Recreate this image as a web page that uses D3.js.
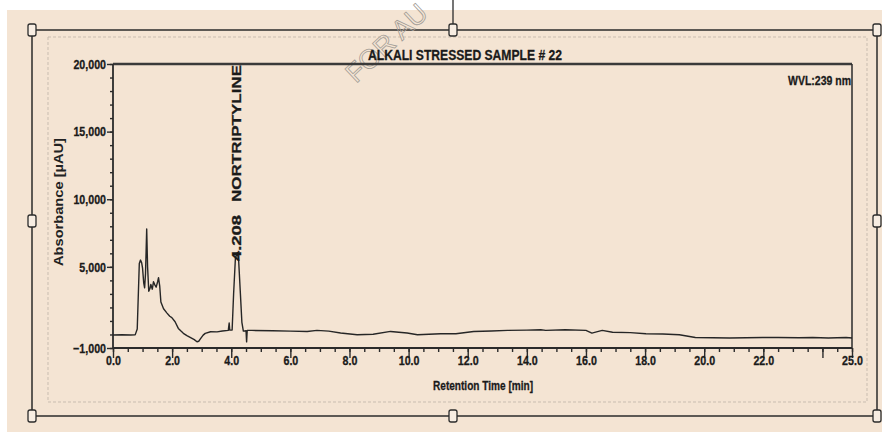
<!DOCTYPE html>
<html>
<head>
<meta charset="utf-8">
<script src="https://cdn.jsdelivr.net/npm/d3@7"></script>
<style>
  html, body { margin: 0; padding: 0; background: #ffffff; }
  svg { display: block; }
  .narrow { font-family: 'Liberation Sans Narrow', 'Arial Narrow', 'Liberation Sans', Arial, sans-serif; font-weight: bold; fill: #1a1a1a; stroke: #1a1a1a; stroke-width: 0.3px; }
</style>
</head>
<body>
<svg id="chart" width="882" height="441"></svg>
<script>
// Chromatogram trace: retention time (min) and absorbance (µAU)
const retentionTime = [
  0.0, 0.3, 0.6, 0.75, 0.82, 0.89, 0.93, 0.97, 1.0, 1.04, 1.07, 1.1, 1.14, 1.17,
  1.21, 1.25, 1.28, 1.33, 1.37, 1.42, 1.46, 1.51, 1.54, 1.58, 1.62, 1.71, 1.82,
  1.92, 1.99, 2.1, 2.21, 2.3, 2.38, 2.5, 2.61, 2.75, 2.84, 2.9, 2.95, 3.05, 3.12,
  3.3, 3.52, 3.7, 3.9, 3.93, 3.95, 4.03, 4.08, 4.14, 4.19, 4.208, 4.25, 4.31,
  4.36, 4.41, 4.5, 4.52, 4.54, 4.7, 5.4, 6.0, 6.57, 6.9, 7.3, 7.7, 8.26, 8.8,
  9.39, 9.95, 10.3, 11.08, 11.6, 12.2, 12.8, 13.35, 14.0, 14.47, 14.64, 15.3,
  16.0, 16.2, 16.55, 16.9, 17.5, 18.03, 18.6, 19.16, 19.7, 20.86, 21.98, 22.5,
  23.2, 23.67, 24.2, 24.8, 25.0
];
const absorbance = [
  -40, -20, -40, -30, 400, 5250, 5500, 5300, 4900, 3800, 3450, 4500, 7800, 5000,
  3200, 3400, 3700, 3350, 3900, 3650, 3500, 3900, 4200, 3600, 2400, 1900, 1600,
  1350, 1250, 940, 450, 250, 85, -80, -210, -380, -540, -500, -350, -50, 80,
  200, 190, 260, 300, 850, 320, 330, 3000, 5600, 6000, 6050, 5500, 3000,
  900, 250, 280, -550, 300, 300, 280, 250, 225, 300, 250, 105, -20, 20,
  225, 105, -20, 55, 55, 225, 260, 300, 320, 350, 300, 350,
  300, 105, 300, 160, 140, 55, 30, -20, -220, -260, -220, -220,
  -240, -220, -260, -220, -260
];

// Axis ticks and labels
const xLabelTicks = [0, 2, 4, 6, 8, 10, 12, 14, 16, 18, 20, 22, 25];
const xMajorTicks = [0, 2, 4, 6, 8, 10, 12, 14, 16, 18, 20, 22, 24, 25];
const xMinorTicks = d3.range(0, 25.01, 0.5);
const yLabelTicks = [-1000, 5000, 10000, 15000, 20000];
const yMinorTicks = d3.range(-1000, 20001, 1000);

// Texts
const chartTitle = "ALKALI STRESSED SAMPLE # 22";
const wavelengthNote = "WVL:239 nm";
const xTitle = "Retention Time [min]";
const yTitle = "Absorbance [\u00b5AU]";
const peakTime = 4.208;
const peakName = "NORTRIPTYLINE";
const watermark = "FOR AU";

const svg = d3.select("#chart");
const W = 882, H = 441;
const plot = { left: 113, right: 852, top: 64, bottom: 348 };

const x = d3.scaleLinear().domain([0, 25]).range([plot.left, plot.right]);
const y = d3.scaleLinear().domain([-1000, 20000]).range([plot.bottom, plot.top]);

// Condense a bold sans text to the look of a narrow face
function condense(sel, factor = 0.82) {
  sel.each(function () {
    const len = this.getComputedTextLength();
    d3.select(this).attr("textLength", len * factor).attr("lengthAdjust", "spacingAndGlyphs");
  });
}

// Page background
svg.append("rect").attr("x", 7).attr("y", 10).attr("width", W - 7).attr("height", 422)
  .attr("fill", "#f4e4d3");

// Dashed inner frame of the report area
svg.append("rect").attr("x", 48).attr("y", 37).attr("width", 819).attr("height", 365)
  .attr("fill", "none").attr("stroke", "#c9bdb0").attr("stroke-width", 1)
  .attr("stroke-dasharray", "3,2");

// Outer selection frame with handles
const frame = { x0: 32, y0: 30, x1: 877, y1: 416 };
svg.append("line").attr("x1", 453).attr("x2", 453).attr("y1", 0).attr("y2", frame.y0)
  .attr("stroke", "#2b2b2b").attr("stroke-width", 1.3);
svg.append("rect").attr("x", frame.x0).attr("y", frame.y0)
  .attr("width", frame.x1 - frame.x0).attr("height", frame.y1 - frame.y0)
  .attr("fill", "none").attr("stroke", "#2b2b2b").attr("stroke-width", 1.5);
const midX = 453, midY = 221;
const handles = [
  [frame.x0, frame.y0], [midX, frame.y0], [frame.x1, frame.y0],
  [frame.x0, midY], [frame.x1, midY],
  [frame.x0, frame.y1], [midX, frame.y1], [frame.x1, frame.y1]
];
svg.selectAll("rect.handle").data(handles).join("rect")
  .attr("class", "handle")
  .attr("x", d => d[0] - 4).attr("y", d => d[1] - 6)
  .attr("width", 8).attr("height", 12).attr("rx", 2)
  .attr("fill", "#f7ede2").attr("stroke", "#2b2b2b").attr("stroke-width", 1.3);

// Watermark
svg.append("text")
  .attr("transform", "translate(356,84) rotate(-43)")
  .attr("font-family", "'Liberation Sans', Arial, sans-serif")
  .attr("font-size", 27)
  .attr("fill", "none").attr("stroke", "#a29c96").attr("stroke-width", 0.8)
  .text(watermark);

// Plot frame: top rule and right border
svg.append("line").attr("x1", plot.left).attr("x2", plot.right)
  .attr("y1", plot.top).attr("y2", plot.top)
  .attr("stroke", "#3a3a3a").attr("stroke-width", 2.6);
svg.append("line").attr("x1", plot.right).attr("x2", plot.right)
  .attr("y1", plot.top).attr("y2", plot.bottom)
  .attr("stroke", "#2b2b2b").attr("stroke-width", 1.5);

// X axis
const gx = svg.append("g").attr("transform", `translate(0,${plot.bottom})`);
gx.append("g").call(d3.axisBottom(x).tickValues(xMinorTicks).tickSize(4).tickFormat(""))
  .call(g => g.select(".domain").remove())
  .selectAll("line").attr("stroke", "#2b2b2b").attr("stroke-width", 1.4);
gx.append("g").call(d3.axisBottom(x).tickValues(xMajorTicks).tickSize(10).tickFormat(""))
  .call(g => g.select(".domain").remove())
  .selectAll("line").attr("stroke", "#2b2b2b").attr("stroke-width", 1.4);
const xLabels = gx.append("g").call(d3.axisBottom(x).tickValues(xLabelTicks).tickSize(0)
  .tickPadding(7.5).tickFormat(d3.format(".1f")));
xLabels.select(".domain").remove();
xLabels.selectAll("text").attr("class", "narrow").attr("font-size", 13)
  .call(condense, 0.82);
gx.append("line").attr("x1", plot.left).attr("x2", plot.right)
  .attr("stroke", "#2b2b2b").attr("stroke-width", 2);

// Y axis
const gy = svg.append("g").attr("transform", `translate(${plot.left},0)`);
gy.append("g").call(d3.axisLeft(y).tickValues(yMinorTicks).tickSize(3).tickFormat(""))
  .call(g => g.select(".domain").remove())
  .selectAll("line").attr("stroke", "#2b2b2b").attr("stroke-width", 1.4);
const yLabels = gy.append("g").call(d3.axisLeft(y).tickValues(yLabelTicks).tickSize(6)
  .tickPadding(1).tickFormat(d3.format(",")));
yLabels.select(".domain").remove();
yLabels.selectAll("line").attr("stroke", "#2b2b2b").attr("stroke-width", 1.4);
yLabels.selectAll("text").attr("class", "narrow").attr("font-size", 13).call(condense, 0.82);
gy.append("line").attr("y1", plot.top).attr("y2", plot.bottom)
  .attr("stroke", "#2b2b2b").attr("stroke-width", 1.8);

// Axis titles
svg.append("text").attr("class", "narrow")
  .attr("x", 483).attr("y", 390)
  .attr("text-anchor", "middle").attr("font-size", 13)
  .attr("textLength", 100).attr("lengthAdjust", "spacingAndGlyphs")
  .text(xTitle);
svg.append("text")
  .attr("transform", `translate(63,202) rotate(-90)`)
  .attr("text-anchor", "middle")
  .attr("font-family", "'Liberation Sans', Arial, sans-serif")
  .attr("font-size", 12).attr("font-weight", "bold").attr("fill", "#222")
  .attr("textLength", 128).attr("lengthAdjust", "spacingAndGlyphs")
  .text(yTitle);

// Title and wavelength
svg.append("text").attr("class", "narrow")
  .attr("x", 368).attr("y", 60).attr("font-size", 14.5)
  .attr("textLength", 194).attr("lengthAdjust", "spacingAndGlyphs")
  .text(chartTitle);
svg.append("text").attr("class", "narrow")
  .attr("x", plot.right - 1).attr("y", 85).attr("text-anchor", "end")
  .attr("font-size", 13.5)
  .attr("textLength", 63).attr("lengthAdjust", "spacingAndGlyphs")
  .text(wavelengthNote);

// Trace
const points = retentionTime.map((t, i) => [t, absorbance[i]]);
svg.append("path").datum(points)
  .attr("fill", "none").attr("stroke", "#262626").attr("stroke-width", 1.4)
  .attr("stroke-linejoin", "round")
  .attr("d", d3.line().x(d => x(d[0])).y(d => y(d[1])));

// Peak annotation (retention time and name), rotated
const px = x(peakTime) + 4;
svg.append("text").attr("class", "narrow")
  .attr("transform", `translate(${px},261) rotate(-90)`)
  .attr("font-size", 12)
  .attr("textLength", 46).attr("lengthAdjust", "spacingAndGlyphs")
  .text(peakTime.toFixed(3));
svg.append("text").attr("class", "narrow")
  .attr("transform", `translate(${px},202) rotate(-90)`)
  .attr("font-size", 12.5)
  .attr("textLength", 137).attr("lengthAdjust", "spacingAndGlyphs")
  .text(peakName);
</script>
</body>
</html>
